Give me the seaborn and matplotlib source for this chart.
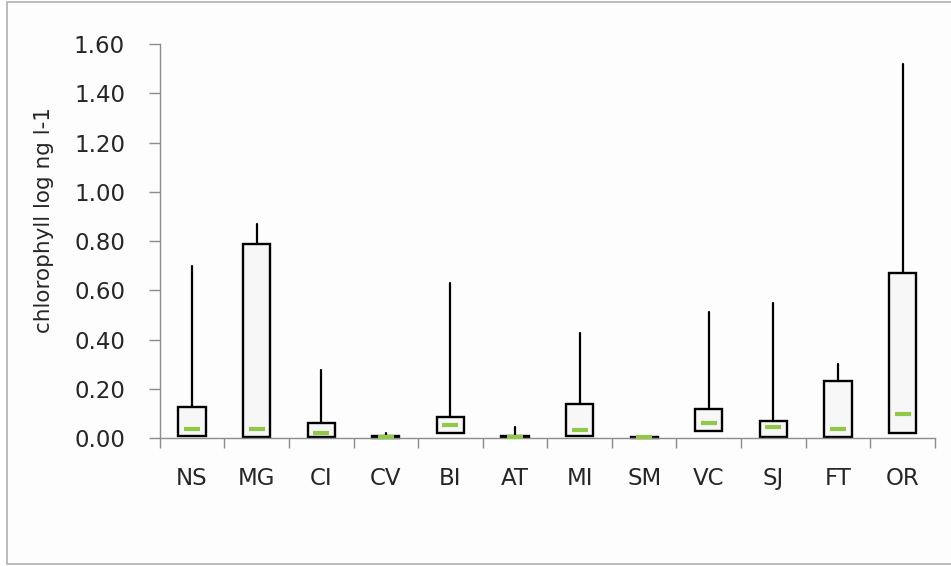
import matplotlib
matplotlib.use("Agg")
import matplotlib.pyplot as plt
from matplotlib.patches import Rectangle
import seaborn as sns
import pandas as pd
import numpy as np

# Summary statistics per site (chlorophyll, log ng l-1)
sites = ["NS", "MG", "CI", "CV", "BI", "AT", "MI", "SM", "VC", "SJ", "FT", "OR"]
q1 = [0.010, 0.004, 0.005, 0.002, 0.020, 0.003, 0.010, 0.001, 0.028, 0.003, 0.003, 0.020]
median = [0.037, 0.037, 0.020, 0.003, 0.052, 0.005, 0.032, 0.003, 0.060, 0.043, 0.035, 0.096]
q3 = [0.126, 0.790, 0.062, 0.008, 0.087, 0.010, 0.138, 0.004, 0.120, 0.070, 0.233, 0.669]
maximum = [0.700, 0.870, 0.276, 0.020, 0.630, 0.046, 0.425, 0.004, 0.513, 0.547, 0.300, 1.520]
y_ticks = [0.0, 0.2, 0.4, 0.6, 0.8, 1.0, 1.2, 1.4, 1.6]

df = pd.DataFrame({"site": sites, "q1": q1, "med": median,
                   "q3": q3, "hi": maximum})

sns.set_style("white")
plt.rcParams["font.family"] = ["DejaVu Sans"]

fig = plt.figure(figsize=(9.51, 5.66), dpi=100)

# chart-area frame
fig.patches.append(Rectangle((7 / 951, 2 / 566), 1.0, 1 - 4 / 566,
                             transform=fig.transFigure, facecolor="#fdfdfd",
                             edgecolor="#b0b0b0", linewidth=1.2, zorder=-10))

ax = fig.add_axes([0.168, 0.226, 0.815, 0.696])
ax.set_zorder(1)
ax.set_facecolor("none")

stats = [
    {"label": r["site"], "q1": r["q1"], "med": r["med"], "q3": r["q3"],
     "whislo": r["q1"], "whishi": r["hi"], "fliers": []}
    for _, r in df.iterrows()
]
positions = np.arange(len(sites))
ax.bxp(stats, positions=positions, widths=0.42, patch_artist=True,
       showcaps=False, showfliers=False, manage_ticks=False,
       boxprops=dict(facecolor="#f7f7f7", edgecolor="black", linewidth=1.7),
       whiskerprops=dict(color="black", linewidth=1.6),
       medianprops=dict(linewidth=0))
for art in ax.lines + ax.patches:
    art.set_clip_on(False)

# median markers
sns.scatterplot(x=positions, y=df["med"], marker="_", s=120,
                color="#92c848", linewidth=3, ax=ax, zorder=5, clip_on=False,
                legend=False)

ax.set_xlim(-0.5, len(sites) - 0.5)
ax.set_ylim(0, 1.6)
ax.set_yticks(y_ticks)
ax.set_yticklabels([f"{v:.2f}" for v in y_ticks], fontsize=16.5, color="#262626")
ax.set_xticks(positions)
ax.set_xticklabels(sites, fontsize=16.5, color="#262626")
ax.set_xticks(np.arange(-0.5, len(sites)), minor=True)
ax.tick_params(axis="x", which="major", length=0, pad=21)
ax.tick_params(axis="x", which="minor", length=7, width=1, color="#8c8c8c",
               direction="out", bottom=True)
ax.tick_params(axis="y", length=8, width=1, color="#8c8c8c", direction="out",
               pad=17, left=True)
ax.set_xlabel("")
ax.set_ylabel("chlorophyll log ng l-1", fontsize=15.5, color="#262626")
ax.yaxis.set_label_coords(-0.137, 0.553)

for side in ("top", "right"):
    ax.spines[side].set_visible(False)
for side in ("left", "bottom"):
    ax.spines[side].set_color("#8c8c8c")
    ax.spines[side].set_linewidth(1)

fig.savefig("out.png", dpi=100, facecolor="white")
